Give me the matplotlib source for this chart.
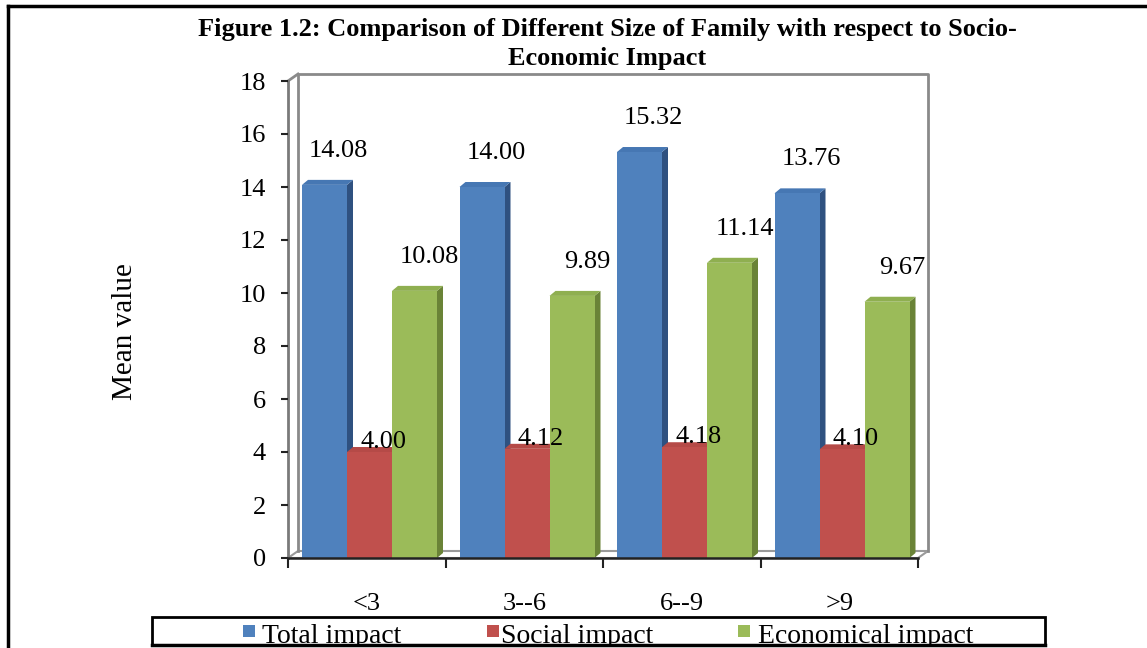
import numpy as np
import matplotlib
matplotlib.use("Agg")
import matplotlib.pyplot as plt
from matplotlib.patches import Rectangle, Polygon
from matplotlib.lines import Line2D

plt.rcParams['font.family'] = ['Liberation Serif', 'DejaVu Serif']

# family size groups and mean impact scores
categories = ['<3', '3--6', '6--9', '>9']
series_names = ['Total impact', 'Social impact', 'Economical impact']
total_impact = [14.08, 14.00, 15.32, 13.76]
social_impact = [4.00, 4.12, 4.18, 4.10]
economical_impact = [10.08, 9.89, 11.14, 9.67]
yticks = [0, 2, 4, 6, 8, 10, 12, 14, 16, 18]

# front / top / side shades for the pseudo-3D columns
front_cols = ['#4F81BD', '#C0504D', '#9BBB59']
top_cols = ['#4677B3', '#B54A47', '#8FAF50']
side_cols = ['#2F5180', '#8A3533', '#6A8337']
# label offsets in pixels (dx, dy) per series
lab_off = [(14, 34), (14, 10), (15, 34)]

W, H = 1147, 648
fig = plt.figure(figsize=(W / 100, H / 100), dpi=100)

def fx(px):
    return px / W

def fy(py):
    return 1 - py / H

# plot area in pixels
x_left, x_right, y_top, y_bot = 288, 918, 81, 558
ax = fig.add_axes([fx(x_left), fy(y_bot), (x_right - x_left) / W, (y_bot - y_top) / H])
ax.set_xlim(0, 4)
ax.set_ylim(0, 18)
ux = 4 / (x_right - x_left)
uy = 18 / (y_bot - y_top)
for s in ax.spines.values():
    s.set_visible(False)

# walls and floor
wx, wy = 10 * ux, 7 * uy
wall = dict(color='#8a8a8a', lw=2, clip_on=False, zorder=1)
ax.add_patch(Polygon([(0, 0), (wx, wy), (4 + wx, wy), (4, 0)], closed=True,
                     facecolor='white', edgecolor='#9a9a9a', lw=1.5, clip_on=False, zorder=1))
ax.plot([wx, wx, 4 + wx, 4 + wx], [wy, 18 + wy, 18 + wy, wy], **wall)
ax.plot([0, wx], [18, 18 + wy], **wall)
ax.plot([0, 0], [0, 18], color='#7a7a7a', lw=2, clip_on=False, zorder=1)
ax.plot([0, 4], [0, 0], color='#222222', lw=1.8, clip_on=False, zorder=5)

# columns
data = [total_impact, social_impact, economical_impact]
bw = 45 * ux
dx, dy = 6 * ux, 5 * uy
start = 14 * ux
for i, vals in enumerate(data):
    for j, v in enumerate(vals):
        x0 = j + start + i * bw
        ax.add_patch(Polygon([(x0 + bw, 0), (x0 + bw + dx, dy), (x0 + bw + dx, v + dy), (x0 + bw, v)],
                             closed=True, facecolor=side_cols[i], edgecolor='none', zorder=2 + i))
        ax.add_patch(Polygon([(x0, v), (x0 + dx, v + dy), (x0 + bw + dx, v + dy), (x0 + bw, v)],
                             closed=True, facecolor=top_cols[i], edgecolor='none', zorder=2 + i))
        ax.add_patch(Rectangle((x0, 0), bw, v, facecolor=front_cols[i], edgecolor='none', zorder=2 + i))
        ox, oy = lab_off[i]
        ax.annotate('%.2f' % v, (x0 + bw / 2, v), xytext=(ox * 0.72, oy * 0.72),
                    textcoords='offset points', ha='center', va='center',
                    fontsize=19, zorder=10)

# axis ticks
ax.set_yticks(yticks)
ax.set_yticklabels([str(t) for t in yticks], fontsize=19)
ax.tick_params(axis='y', direction='out', length=5, width=1.5, color='#222222', pad=11)
ax.set_xticks([0, 1, 2, 3, 4])
ax.set_xticklabels([])
ax.tick_params(axis='x', direction='out', length=7, width=1.5, color='#222222')
for j, c in enumerate(categories):
    ax.text(j + 0.5, -(604 - y_bot) / (y_bot - y_top), c, transform=ax.get_xaxis_transform(),
            ha='center', va='center', fontsize=19)

fig.text(fx(125), fy(332), 'Mean value', rotation=90, ha='center', va='center', fontsize=21)

fig.text(fx(607), fy(44), 'Figure 1.2: Comparison of Different Size of Family with respect to Socio-\nEconomic Impact',
         ha='center', va='center', fontsize=19, fontweight='bold', linespacing=1.38)

# outer frame
fig.add_artist(Line2D([fx(8), fx(8)], [fy(6), 0], color='black', lw=2.5))
fig.add_artist(Line2D([fx(8), 1], [fy(6), fy(6)], color='black', lw=2.5))

# legend box, its text clipped by the bottom edge
box = Rectangle((fx(152), fy(645)), fx(1045 - 152), (645 - 617) / H, transform=fig.transFigure,
                facecolor='white', edgecolor='black', lw=2)
fig.add_artist(box)
leg_x = [(243, 262), (487, 501), (738, 758)]
for i, name in enumerate(series_names):
    sx, tx = leg_x[i]
    fig.add_artist(Rectangle((fx(sx), fy(637)), fx(12), 12 / H, transform=fig.transFigure,
                             facecolor=front_cols[i], edgecolor='none'))
    t = fig.text(fx(tx), fy(643), name, ha='left', va='baseline', fontsize=20)
    t.set_clip_path(box)
fig.add_artist(Line2D([fx(152), fx(1045)], [fy(645), fy(645)], color='black', lw=2.5))

fig.savefig('out.png', dpi=100)
